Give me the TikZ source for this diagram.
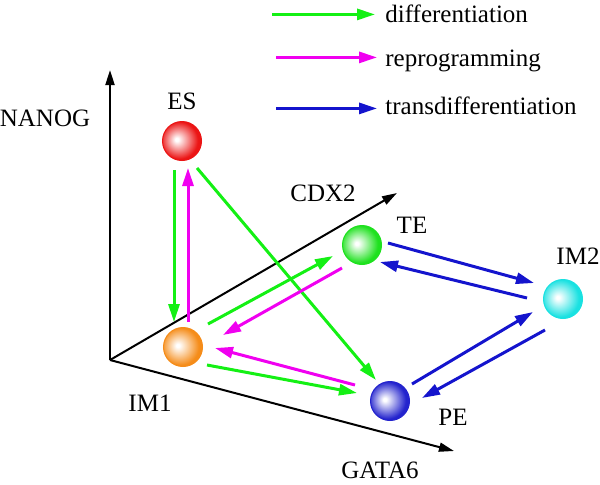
\documentclass[tikz,border=0pt]{standalone}
\usepackage{fontspec}
\setmainfont{Liberation Serif}
\usetikzlibrary{arrows.meta,calc}

\definecolor{diffgreen}{RGB}{20,240,20}
\definecolor{repmagenta}{RGB}{240,0,240}
\definecolor{transblue}{RGB}{20,20,205}
\definecolor{esred}{RGB}{235,20,20}
\definecolor{imorange}{RGB}{245,140,25}
\definecolor{tegreen}{RGB}{30,225,30}
\definecolor{imcyan}{RGB}{25,225,225}
\definecolor{peblue}{RGB}{35,35,205}
\colorlet{ballrim}{red}

\pgfdeclareradialshading[ballrim]{sphere}{\pgfpoint{-7bp}{2bp}}{%
  color(0bp)=(white); color(2bp)=(white); color(12bp)=(ballrim!45!white);
  color(24bp)=(ballrim); color(50bp)=(ballrim)}

\tikzset{
  cell/.style={circle, minimum size=19.5pt, inner sep=0pt, draw=#1, line width=0.5pt,
    /utils/exec={\colorlet{ballrim}{#1}}, shade, shading=sphere},
  axis/.style={line width=1pt, -{Triangle[length=7.5pt,width=4.5pt]}},
  flow/.style={line width=1.5pt, draw=#1, -{Triangle[length=9pt,width=5.5pt]}, #1},
  diff/.style={flow=diffgreen},
  repr/.style={flow=repmagenta},
  trans/.style={flow=transblue},
}

\begin{document}
\begin{tikzpicture}[x=0.5pt, y=-0.5pt, font=\rmfamily\fontsize{12.5}{15}\selectfont]
  \useasboundingbox (0,0) rectangle (600,484);

  % axes
  \coordinate (o) at (110,360);
  \coordinate (nanogend) at (110,70);
  \coordinate (cdxend) at (397,193);
  \coordinate (gataend) at (454,451);
  \draw[axis] (o) -- (nanogend);
  \draw[axis] (o) -- (cdxend);
  \draw[axis] (o) -- (gataend);
  \node (nanog) at (45,118) {NANOG};
  \node (cdx) at (323,193) {CDX2};
  \node (gata) at (380,470) {GATA6};

  % cells
  \node[cell=esred] (es) at (182,141) {};
  \node[cell=imorange] (im1) at (183,347) {};
  \node[cell=tegreen] (te) at (362,245) {};
  \node[cell=imcyan] (im2) at (563,299) {};
  \node[cell=peblue] (pe) at (390,401) {};
  \node (eslab) at (182,101) {ES};
  \node (im1lab) at (150,403) {IM1};
  \node (telab) at (412,225) {TE};
  \node (im2lab) at (578,256) {IM2};
  \node (pelab) at (453,417) {PE};

  % transitions
  \draw[diff] ($(es)+(-8,29)$) -- ($(im1)+(-9,-25)$);
  \draw[repr] ($(im1)+(5,-25)$) -- ($(es)+(6,27)$);
  \draw[diff] ($(es)+(15,27)$) -- ($(pe)+(-14,-21)$);
  \draw[diff] ($(im1)+(25,-23)$) -- ($(te)+(-29,11)$);
  \draw[repr] ($(te)+(-20,23)$) -- ($(im1)+(40,-12)$);
  \draw[repr] ($(pe)+(-35,-16)$) -- ($(im1)+(32,1)$);
  \draw[diff] ($(im1)+(24,18)$) -- ($(pe)+(-33,-8)$);
  \draw[trans] ($(te)+(26,-2)$) -- ($(im2)+(-29,-16)$);
  \draw[trans] ($(im2)+(-36,-1)$) -- ($(te)+(18,17)$);
  \draw[trans] ($(pe)+(22,-17)$) -- ($(im2)+(-30,13)$);
  \draw[trans] ($(im2)+(-18,31)$) -- ($(pe)+(32,-3)$);

  % legend
  \node[anchor=base west, inner sep=0pt] (ldiff) at (385,22) {differentiation};
  \node[anchor=base west, inner sep=0pt] (lrepr) at (385,66) {reprogramming};
  \node[anchor=base west, inner sep=0pt] (ltrans) at (385,114) {transdifferentiation};
  \draw[diff] ($(ldiff.mid west)+(-113,-3)$) -- ($(ldiff.mid west)+(-10,-3)$);
  \draw[repr] ($(lrepr.mid west)+(-109,-4)$) -- ($(lrepr.mid west)+(-8,-4)$);
  \draw[trans] ($(ltrans.mid west)+(-109,-1)$) -- ($(ltrans.mid west)+(-8,-1)$);
\end{tikzpicture}
\end{document}
